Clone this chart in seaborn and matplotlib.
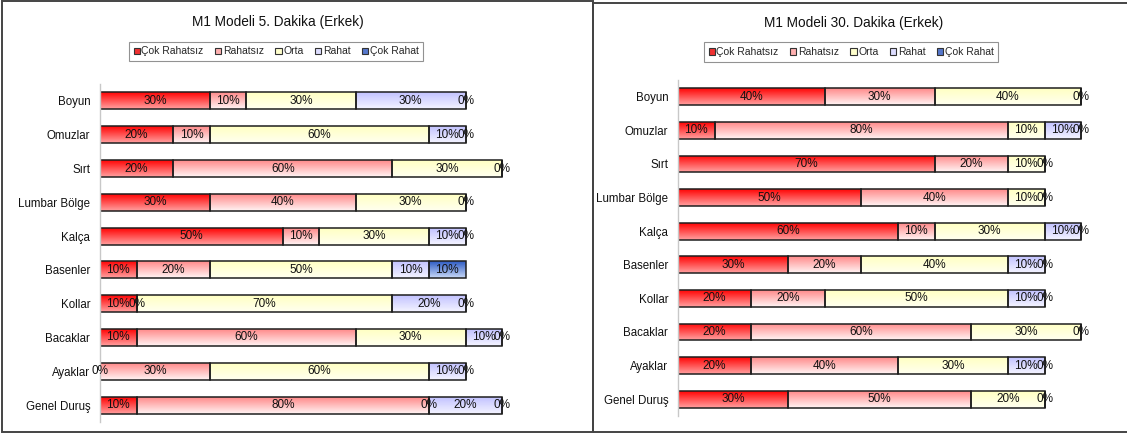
import numpy as np
import pandas as pd
import matplotlib
matplotlib.use("Agg")
import matplotlib.pyplot as plt
import seaborn as sns
from matplotlib.colors import LinearSegmentedColormap
from matplotlib.patches import Patch, Rectangle

# --- data ---
regions = ['Boyun', 'Omuzlar', 'Sırt', 'Lumbar Bölge', 'Kalça',
           'Basenler', 'Kollar', 'Bacaklar', 'Ayaklar', 'Genel Duruş']
levels = ['Çok Rahatsız', 'Rahatsız', 'Orta', 'Rahat', 'Çok Rahat']

# values in %, one list per comfort level (order follows regions)
m5_cok_rahatsiz = [30, 20, 20, 30, 50, 10, 10, 10, 0, 10]
m5_rahatsiz     = [10, 10, 60, 40, 10, 20, 0, 60, 30, 80]
m5_orta         = [30, 60, 30, 30, 30, 50, 70, 30, 60, 0]
m5_rahat        = [30, 10, 0, 0, 10, 10, 20, 10, 10, 20]
m5_cok_rahat    = [0, 0, 0, 0, 0, 10, 0, 0, 0, 0]

m30_cok_rahatsiz = [40, 10, 70, 50, 60, 30, 20, 20, 20, 30]
m30_rahatsiz     = [30, 80, 20, 40, 10, 20, 20, 60, 40, 50]
m30_orta         = [40, 10, 10, 10, 30, 40, 50, 30, 30, 20]
m30_rahat        = [0, 10, 0, 0, 10, 10, 10, 0, 10, 0]
m30_cok_rahat    = [0, 0, 0, 0, 0, 0, 0, 0, 0, 0]

titles = ['M1 Modeli 5. Dakika (Erkek)', 'M1 Modeli 30. Dakika (Erkek)']

# gradient colours (top -> bottom of each bar)
grad = {
    'Çok Rahatsız': ('#FF0505', '#FFA0A0'),
    'Rahatsız': ('#FF8A8A', '#FFF4F4'),
    'Orta': ('#FFFFC2', '#FFFFF0'),
    'Rahat': ('#C2C2FF', '#F4F4FF'),
    'Çok Rahat': ('#2E5CC4', '#C8D8F6'),
}
legend_col = {'Çok Rahatsız': '#F03030', 'Rahatsız': '#FFB0B0', 'Orta': '#FFFFCC',
              'Rahat': '#DDDDFF', 'Çok Rahat': '#5577CC'}

sns.set_theme(style="white")
plt.rcParams['font.family'] = ['Liberation Sans', 'DejaVu Sans']

fig = plt.figure(figsize=(11.27, 4.34), dpi=100)
ax1 = fig.add_axes([100/1127, 12/434, 457/1127, 338/434])
ax2 = fig.add_axes([678/1127, 18/434, 440/1127, 336/434])


def draw_panel(ax, series, xmax):
    lefts = np.zeros(len(regions))
    placed = set()
    for name, vals in zip(levels, series):
        df = pd.DataFrame({'region': regions, 'value': vals})
        sns.barplot(data=df, x='value', y='region', orient='h', order=regions,
                    color='white', width=0.5, left=lefts, ax=ax,
                    edgecolor='#1E1E1E', linewidth=1.1, errorbar=None)
        cont = ax.containers[-1]
        cmap = LinearSegmentedColormap.from_list(name, grad[name])
        for i, (bar, v, l) in enumerate(zip(cont.patches, vals, lefts)):
            x0, y0 = bar.get_x(), bar.get_y()
            w, h = bar.get_width(), bar.get_height()
            if w > 0:
                im = ax.imshow(np.linspace(0, 1, 64).reshape(-1, 1), cmap=cmap,
                               extent=(x0, x0 + w, y0 + h, y0), aspect='auto',
                               interpolation='bilinear', zorder=1)
                im.set_clip_path(bar)
            bar.set_facecolor('none')
            bar.set_zorder(2)
            key = (i, l + v / 2, v)
            if key in placed:
                continue
            placed.add(key)
            ax.text(l + v / 2, y0 + h / 2, f'{v}%', ha='center', va='center',
                    fontsize=8.5, color='#111111', zorder=3)
        lefts = lefts + np.array(vals)
    ax.set_xlim(0, xmax)
    ax.set_ylim(len(regions) - 0.5, -0.5)
    ax.set_xlabel('')
    ax.set_ylabel('')
    ax.set_xticks([])
    ax.tick_params(axis='y', length=0, pad=7, labelsize=8.3, labelcolor='#111111')
    for s in ['top', 'right', 'bottom']:
        ax.spines[s].set_visible(False)
    ax.spines['left'].set_color('#C8C8C8')
    ax.spines['left'].set_linewidth(1.0)


draw_panel(ax1, [m5_cok_rahatsiz, m5_rahatsiz, m5_orta, m5_rahat, m5_cok_rahat], 125)
draw_panel(ax2, [m30_cok_rahatsiz, m30_rahatsiz, m30_orta, m30_rahat, m30_cok_rahat], 120)

# titles
fig.text(278/1127, 1 - 22/434, titles[0], ha='center', va='center', fontsize=9.8, color='#111111')
fig.text(854/1127, 1 - 23/434, titles[1], ha='center', va='center', fontsize=9.8, color='#111111')

# legends
handles = [Patch(facecolor=legend_col[n], edgecolor='#333333', linewidth=0.8, label=n) for n in levels]
for cx, cy in [(276/1127, 1 - 51.5/434), (851/1127, 1 - 52/434)]:
    leg = fig.legend(handles=handles, loc='center', bbox_to_anchor=(cx, cy), ncol=5,
                     fontsize=7.5, frameon=True, fancybox=False, handlelength=0.6,
                     handleheight=0.6, handletextpad=0.15, columnspacing=1.1,
                     borderpad=0.45, edgecolor='#777777')
    leg.get_frame().set_linewidth(0.8)

# panel frames
fig.add_artist(Rectangle((2/1127, 2/434), 591/1127, 431/434, transform=fig.transFigure,
                         fill=False, edgecolor='#444444', linewidth=1.4, clip_on=False))
fig.add_artist(Rectangle((593/1127, 2/434), 540/1127, 429/434, transform=fig.transFigure,
                         fill=False, edgecolor='#444444', linewidth=1.4, clip_on=False))

fig.savefig('out.png', dpi=100)
